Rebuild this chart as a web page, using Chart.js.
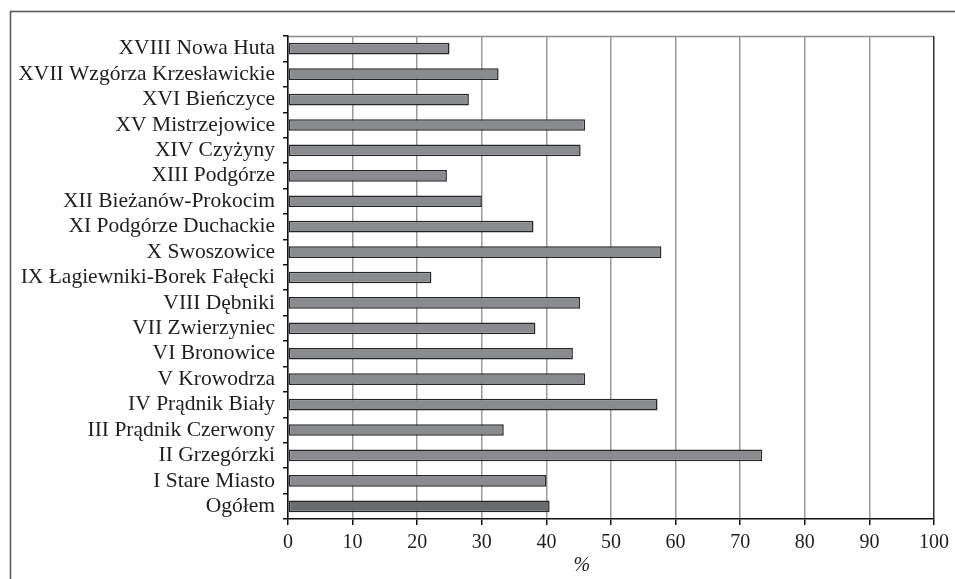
<!DOCTYPE html>
<html>
<head>
<meta charset="utf-8">
<script src="https://cdn.jsdelivr.net/npm/chart.js@4/dist/chart.umd.min.js"></script>
<style>
  html, body { margin: 0; padding: 0; background: #fff; }
  #wrap { width: 955px; height: 579px; position: relative; }
</style>
</head>
<body>
<div id="wrap"><canvas id="chart" width="955" height="579"></canvas></div>
<script>
// Districts of Kraków, top to bottom, with the city-wide total last
const districts = [
  'XVIII Nowa Huta',
  'XVII Wzgórza Krzesławickie',
  'XVI Bieńczyce',
  'XV Mistrzejowice',
  'XIV Czyżyny',
  'XIII Podgórze',
  'XII Bieżanów-Prokocim',
  'XI Podgórze Duchackie',
  'X Swoszowice',
  'IX Łagiewniki-Borek Fałęcki',
  'VIII Dębniki',
  'VII Zwierzyniec',
  'VI Bronowice',
  'V Krowodrza',
  'IV Prądnik Biały',
  'III Prądnik Czerwony',
  'II Grzegórzki',
  'I Stare Miasto',
  'Ogółem'
];
// Share in percent
const shares = [25.0, 32.6, 28.0, 46.0, 45.3, 24.6, 30.0, 38.0, 57.8, 22.2,
                45.2, 38.3, 44.1, 46.0, 57.2, 33.4, 73.4, 40.0, 40.5];
const xTicks = [0, 10, 20, 30, 40, 50, 60, 70, 80, 90, 100];
const axisTitle = '%';
const totalLabel = 'Ogółem';

const serif = '"Liberation Serif", "Times New Roman", serif';

// Outer frame and top edge of the plot area
const framePlugin = {
  id: 'frame',
  beforeDraw(chart) {
    const ctx = chart.ctx;
    const a = chart.chartArea;
    ctx.save();
    ctx.strokeStyle = '#5a5a5a';
    ctx.lineWidth = 1.6;
    ctx.strokeRect(10.5, 11.5, 1000, 700);
    ctx.strokeStyle = '#8a8a8a';
    ctx.lineWidth = 1.5;
    ctx.beginPath();
    ctx.moveTo(a.left, a.top + 0.5);
    ctx.lineTo(a.right, a.top + 0.5);
    ctx.stroke();
    ctx.restore();
  },
  afterDraw(chart) {
    const ctx = chart.ctx;
    const x = chart.scales.x;
    ctx.save();
    ctx.font = 'italic 20px ' + serif;
    ctx.fillStyle = '#1e1e1e';
    ctx.textAlign = 'center';
    ctx.textBaseline = 'middle';
    ctx.fillText(axisTitle, x.getPixelForValue(45.5), 566);
    ctx.restore();
  }
};

new Chart(document.getElementById('chart'), {
  type: 'bar',
  data: {
    labels: districts,
    datasets: [{
      data: shares,
      backgroundColor: districts.map(d => d === totalLabel ? '#6a6b6f' : '#8a8b8f'),
      borderColor: '#262626',
      borderWidth: 1.5,
      borderSkipped: false,
      categoryPercentage: 1,
      barPercentage: 0.46
    }]
  },
  options: {
    indexAxis: 'y',
    responsive: false,
    animation: false,
    devicePixelRatio: 1,
    layout: { padding: { left: 0, top: 36, right: 21, bottom: 0 } },
    plugins: { legend: { display: false }, tooltip: { enabled: false } },
    scales: {
      x: {
        type: 'linear',
        min: 0,
        max: 100,
        afterBuildTicks(scale) { scale.ticks = xTicks.map(v => ({ value: v })); },
        afterFit(scale) { scale.height = 60; },
        grid: {
          color: ctx => (ctx.tick && ctx.tick.value === 100) ? '#333' : '#9a9a9a',
          lineWidth: 1.5,
          tickColor: '#111',
          tickLength: 6,
          drawOnChartArea: true
        },
        border: { color: '#111', width: 1.5 },
        ticks: {
          color: '#1e1e1e',
          font: { family: serif, size: 20 },
          padding: 6,
          maxRotation: 0
        }
      },
      y: {
        afterFit(scale) { scale.width = 288; },
        grid: {
          offset: true,
          drawOnChartArea: false,
          tickColor: '#111',
          tickLength: 5,
          lineWidth: 1.5
        },
        border: { color: '#111', width: 1.5 },
        ticks: {
          color: '#1e1e1e',
          font: { family: serif, size: 21.5 },
          padding: 8,
          autoSkip: false
        }
      }
    }
  },
  plugins: [framePlugin]
});
</script>
</body>
</html>
